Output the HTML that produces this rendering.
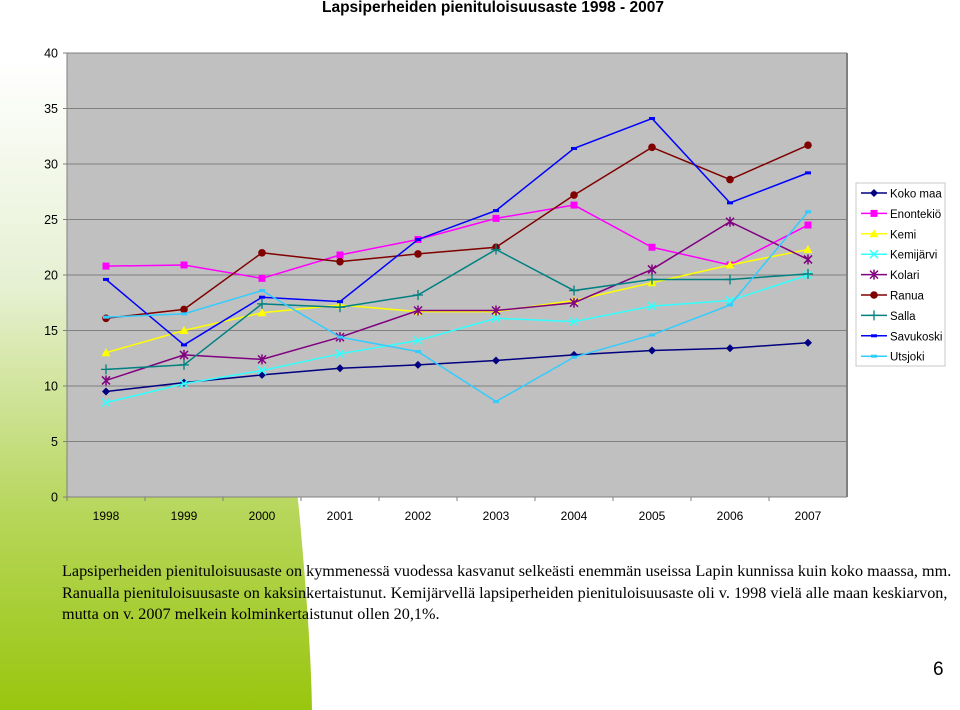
<!DOCTYPE html>
<html><head><meta charset="utf-8"><style>
body{margin:0;width:960px;height:710px;overflow:hidden;background:#fff;font-family:"Liberation Sans",sans-serif;position:relative}
svg{position:absolute;left:0;top:0}
.txt{position:absolute;left:62px;top:561px;width:898px;font-family:"Liberation Serif",serif;font-size:16.2px;line-height:21.5px;color:#000;white-space:nowrap}
</style></head><body>
<svg width="960" height="710">
<defs><linearGradient id="g" x1="0" y1="0" x2="0" y2="1">
<stop offset="0" stop-color="#fff"/><stop offset="0.35" stop-color="#e6f0d2"/><stop offset="0.7" stop-color="#b6d65a"/><stop offset="1" stop-color="#99c60e"/></linearGradient></defs>
<path d="M0,60 L240,60 C270,250 290,420 300,520 C306,590 311,650 312,710 L0,710 Z" fill="url(#g)"/>
</svg>
<svg id="chart" width="960" height="710"></svg>
<div class="txt">Lapsiperheiden pienituloisuusaste on kymmenessä vuodessa kasvanut selkeästi enemmän useissa Lapin kunnissa kuin koko maassa, mm.<br>Ranualla pienituloisuusaste on kaksinkertaistunut. Kemijärvellä lapsiperheiden pienituloisuusaste oli v. 1998 vielä alle maan keskiarvon,<br>mutta on v. 2007 melkein kolminkertaistunut ollen 20,1%.</div>
<div style="position:absolute;left:933px;top:659px;font-size:19px">6</div>
<script>
const years=["1998","1999","2000","2001","2002","2003","2004","2005","2006","2007"];
const yTicks=[0,5,10,15,20,25,30,35,40];
const names=["Koko maa","Enontekiö","Kemi","Kemijärvi","Kolari","Ranua","Salla","Savukoski","Utsjoki"];
const kokoMaa=[9.5,10.3,11.0,11.6,11.9,12.3,12.8,13.2,13.4,13.9];
const enontekio=[20.8,20.9,19.7,21.8,23.2,25.1,26.3,22.5,20.9,24.5];
const kemi=[13.0,15.0,16.6,17.3,16.7,16.7,17.7,19.3,20.9,22.3];
const kemijarvi=[8.5,10.2,11.4,12.9,14.1,16.1,15.8,17.2,17.7,20.0];
const kolari=[10.5,12.8,12.4,14.4,16.8,16.8,17.5,20.5,24.8,21.4];
const ranua=[16.1,16.9,22.0,21.2,21.9,22.5,27.2,31.5,28.6,31.7];
const salla=[11.5,11.9,17.4,17.1,18.2,22.3,18.6,19.6,19.6,20.1];
const savukoski=[19.6,13.7,18.0,17.6,23.2,25.8,31.4,34.1,26.5,29.2];
const utsjoki=[16.2,16.5,18.6,14.4,13.1,8.6,12.6,14.6,17.3,25.7];
const series=[kokoMaa,enontekio,kemi,kemijarvi,kolari,ranua,salla,savukoski,utsjoki];
const colors=["#000080","#ff00ff","#ffff00","#33ffff","#800080","#800000","#008080","#0000ff","#33ccff"];
const markers=["diamond","square","triangle","x","star","circle","plus","dash","dash"];
const L=67,R=847,T=53,B=497,yMax=40;
const step=(R-L)/years.length;
const xs=i=>L+step*(i+0.5);
const ys=v=>B-(v/yMax)*(B-T);
const svg=document.getElementById('chart');
const NS='http://www.w3.org/2000/svg';
function mk(t,a,p){const e=document.createElementNS(NS,t);for(const k in a)e.setAttribute(k,a[k]);(p||svg).appendChild(e);return e;}
const bg=mk('rect',{x:L,y:T,width:R-L,height:B-T,fill:'#c0c0c0'});


const title=mk('text',{x:493,y:12,'text-anchor':'middle','font-size':'15.5','font-weight':'bold'});
title.textContent='Lapsiperheiden pienituloisuusaste 1998 - 2007';


yTicks.forEach(v=>{
 const y=ys(v);
 const gl=mk('line',{x1:L,x2:R,y1:y,y2:y,stroke:'#808080','stroke-width':1});
 
 
 mk('line',{x1:L-4,x2:L,y1:y,y2:y,stroke:'#808080'});
 const t=mk('text',{x:L-9,y:y+4.5,'text-anchor':'end','font-size':'12.5'});
 t.textContent=v;
 
 
});
mk('line',{x1:L,x2:L,y1:T,y2:B,stroke:'#808080'});
mk('line',{x1:R,x2:R,y1:T,y2:B,stroke:'#808080','stroke-width':2});
years.forEach((yr,i)=>{
 mk('line',{x1:L+step*i,x2:L+step*i,y1:B,y2:B+4,stroke:'#808080'});
 const t=mk('text',{x:xs(i),y:B+23,'text-anchor':'middle','font-size':'12'});
 t.textContent=yr;
 
 
});
function marker(g,type,x,y,c){
 if(type==='diamond')mk('path',{d:`M${x},${y-4}L${x+4},${y}L${x},${y+4}L${x-4},${y}Z`,fill:c},g);
 else if(type==='square')mk('rect',{x:x-3.5,y:y-3.5,width:7,height:7,fill:c},g);
 else if(type==='triangle')mk('path',{d:`M${x},${y-4.5}L${x+4.5},${y+3.5}L${x-4.5},${y+3.5}Z`,fill:c},g);
 else if(type==='circle')mk('circle',{cx:x,cy:y,r:3.8,fill:c},g);
 else if(type==='x')mk('path',{d:`M${x-4},${y-4}L${x+4},${y+4}M${x-4},${y+4}L${x+4},${y-4}`,stroke:c,'stroke-width':1.5},g);
 else if(type==='star')mk('path',{d:`M${x-4},${y-4}L${x+4},${y+4}M${x-4},${y+4}L${x+4},${y-4}M${x},${y-5}L${x},${y+5}`,stroke:c,'stroke-width':1.5},g);
 else if(type==='plus')mk('path',{d:`M${x-5},${y}L${x+5},${y}M${x},${y-5}L${x},${y+5}`,stroke:c,'stroke-width':1.3},g);
 else if(type==='dash')mk('rect',{x:x-3,y:y-1.5,width:6,height:3,fill:c},g);
}
series.forEach((s,si)=>{
 const g=mk('g',{});
 
 
 mk('polyline',{points:s.map((v,i)=>xs(i)+','+ys(v)).join(' '),fill:'none',stroke:colors[si],'stroke-width':1.5},g);
 s.forEach((v,i)=>marker(g,markers[si],xs(i),ys(v),colors[si]));
});
const lg=mk('g',{});


mk('rect',{x:856,y:183,width:89,height:183,fill:'#fff',stroke:'#c8c8c8'},lg);
names.forEach((n,i)=>{
 const y=193+i*20.4;
 const e=mk('g',{},lg);
 
 
 mk('line',{x1:861,x2:887,y1:y,y2:y,stroke:colors[i],'stroke-width':1.5},e);
 marker(e,markers[i],874,y,colors[i]);
 const t=mk('text',{x:890,y:y+4.5,'font-size':'11.5'},e);
 t.textContent=n;
});
</script>
</body></html>
